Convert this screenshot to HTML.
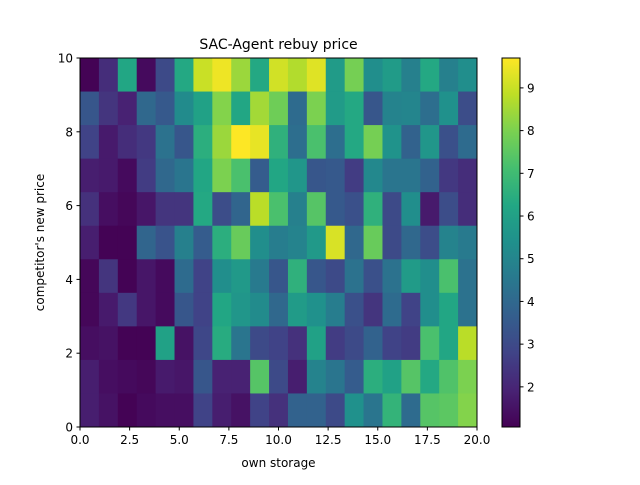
<!DOCTYPE html>
<html><head><meta charset="utf-8"><style>
body{margin:0;background:#fff;}
svg text{font-family:"DejaVu Sans","Liberation Sans",sans-serif;fill:#000;}
</style></head><body>
<svg id="chart" width="640" height="480" viewBox="0 0 640 480" xmlns="http://www.w3.org/2000/svg">
<rect width="640" height="480" fill="#fff"/>
<g id="cells"></g>
<g id="axes"></g>
<defs><linearGradient id="cbg" x1="0" y1="1" x2="0" y2="0"></linearGradient></defs>
<g id="cbar"></g>
<text x="278.5" y="49" font-size="14" text-anchor="middle">SAC-Agent rebuy price</text>
<text x="278.5" y="467" font-size="12" text-anchor="middle">own storage</text>
<text x="0" y="0" font-size="12" text-anchor="middle" transform="translate(44,242.5) rotate(-90)">competitor's new price</text>
</svg>
<script>
// rows top (y=10) to bottom (y=0), 21 columns each
const row0=[1.1,2.2,6.2,1.3,3.0,6.3,9.0,9.5,8.4,6.3,9.1,8.7,9.3,5.8,7.9,5.3,5.8,4.8,6.3,4.8,5.3];
const row1=[3.4,2.4,1.9,4.0,3.5,5.2,6.0,8.1,6.2,8.5,7.8,4.1,8.0,5.8,6.3,3.4,4.9,5.0,4.2,5.4,3.1];
const row2=[2.8,1.7,2.2,2.5,4.3,3.4,6.5,8.4,9.7,9.4,6.6,4.2,7.2,4.2,6.3,7.9,5.5,3.8,5.6,3.2,4.1];
const row3=[1.8,1.7,1.3,2.6,4.0,4.4,6.2,8.0,7.2,3.6,6.2,5.6,3.4,3.5,2.6,5.1,4.4,4.4,3.8,2.5,2.2];
const row4=[2.3,1.4,1.2,1.6,2.4,2.4,6.3,3.1,3.9,8.8,7.2,4.8,7.4,3.5,3.2,6.6,3.0,5.3,1.7,3.1,2.2];
const row5=[1.8,1.1,1.1,3.9,3.3,4.8,3.6,6.5,7.7,5.3,4.7,4.9,5.7,9.2,4.0,7.7,3.0,4.0,3.1,4.9,4.6];
const row6=[1.2,2.4,1.1,1.6,1.3,4.1,2.8,5.3,5.7,4.6,3.4,6.6,3.4,3.0,4.3,3.2,4.3,5.8,5.3,7.2,4.3];
const row7=[1.2,1.7,2.5,1.6,1.3,3.4,2.8,6.2,5.6,5.2,4.0,5.8,5.4,4.7,3.2,2.4,4.1,2.8,5.3,6.2,4.3];
const row8=[1.4,1.5,1.1,1.1,6.0,1.5,2.9,6.4,4.4,3.0,2.8,2.3,6.0,2.6,3.0,3.8,2.8,2.6,7.2,6.2,8.8];
const row9=[1.8,1.4,1.3,1.2,1.7,1.6,3.4,1.9,1.9,7.4,3.0,1.8,4.9,4.4,3.6,6.5,6.0,7.4,6.3,7.3,8.0];
const row10=[1.8,1.5,1.1,1.3,1.4,1.4,2.8,1.8,1.5,2.8,2.3,3.8,3.8,3.0,5.4,4.4,6.7,4.1,7.4,7.5,8.1];
const rows=[row0,row1,row2,row3,row4,row5,row6,row7,row8,row9,row10];
const xTicks=[0,2.5,5,7.5,10,12.5,15,17.5,20];
const xTickLabels=["0.0","2.5","5.0","7.5","10.0","12.5","15.0","17.5","20.0"];
const yTicks=[0,2,4,6,8,10];
const cbTicks=[2,3,4,5,6,7,8,9];
const vmin=1.06, vmax=9.7;

const NS="http://www.w3.org/2000/svg";
const L=80,R=477,T=58,B=427;
const xS=v=>L+(v-0)/(20-0)*(R-L);
const yS=v=>B-(v-0)/(10-0)*(B-T);
const vir=[[68,1,84],[72,35,116],[64,67,135],[52,94,141],[41,120,142],[32,144,140],[34,167,132],[68,190,112],[121,209,81],[189,222,38],[253,231,37]];
function color(v){let t=(v-vmin)/(vmax-vmin);t=Math.max(0,Math.min(1,t));const p=t*10,i=Math.min(9,Math.floor(p)),f=p-i;const a=vir[i],b=vir[i+1];return `rgb(${a.map((c,k)=>Math.round(c+(b[k]-c)*f)).join(',')})`;}
function mk(tag,attrs,parent){const e=document.createElementNS(NS,tag);for(const k in attrs)e.setAttribute(k,attrs[k]);parent.appendChild(e);return e;}

const cells=document.getElementById('cells');
const nR=rows.length,nC=rows[0].length;
const cw=(R-L)/nC,ch=(B-T)/nR;
rows.forEach((row,r)=>row.forEach((v,c)=>{
  const e=mk('rect',{x:L+c*cw,y:T+r*ch,width:cw+0.5,height:ch+0.5,fill:color(v)},cells);
  
  
}));

const ax=document.getElementById('axes');
const frame=mk('rect',{x:L,y:T,width:R-L,height:B-T,fill:'none',stroke:'#000','stroke-width':1},ax);


xTicks.forEach((v,i)=>{
  const x=xS(v);
  const tk=mk('line',{x1:x,x2:x,y1:B,y2:B+3.5,stroke:'#000'},ax);
  
  
  const t=mk('text',{x:x,y:B+17,'font-size':12,'text-anchor':'middle'},ax);
  t.textContent=xTickLabels[i];
  
  
});
yTicks.forEach(v=>{
  const y=yS(v);
  const tk=mk('line',{x1:L-3.5,x2:L,y1:y,y2:y,stroke:'#000'},ax);
  
  
  const t=mk('text',{x:L-7,y:y+4.5,'font-size':12,'text-anchor':'end'},ax);
  t.textContent=String(v);
  
  
});

const grad=document.getElementById('cbg');
for(let i=0;i<=20;i++){const v=vmin+(vmax-vmin)*i/20;mk('stop',{offset:(i*5)+'%','stop-color':color(v)},grad);}
const cb=document.getElementById('cbar');
const CL=502,CR=520;
const cyS=v=>B-(v-vmin)/(vmax-vmin)*(B-T);
const cr=mk('rect',{x:CL,y:T,width:CR-CL,height:B-T,fill:'url(#cbg)',stroke:'#000','stroke-width':1},cb);


cbTicks.forEach(v=>{
  const y=cyS(v);
  const tk=mk('line',{x1:CR,x2:CR+3.5,y1:y,y2:y,stroke:'#000'},cb);
  
  
  const t=mk('text',{x:CR+7,y:y+4.5,'font-size':12},cb);
  t.textContent=String(v);
  
  
});
</script>
</body></html>
